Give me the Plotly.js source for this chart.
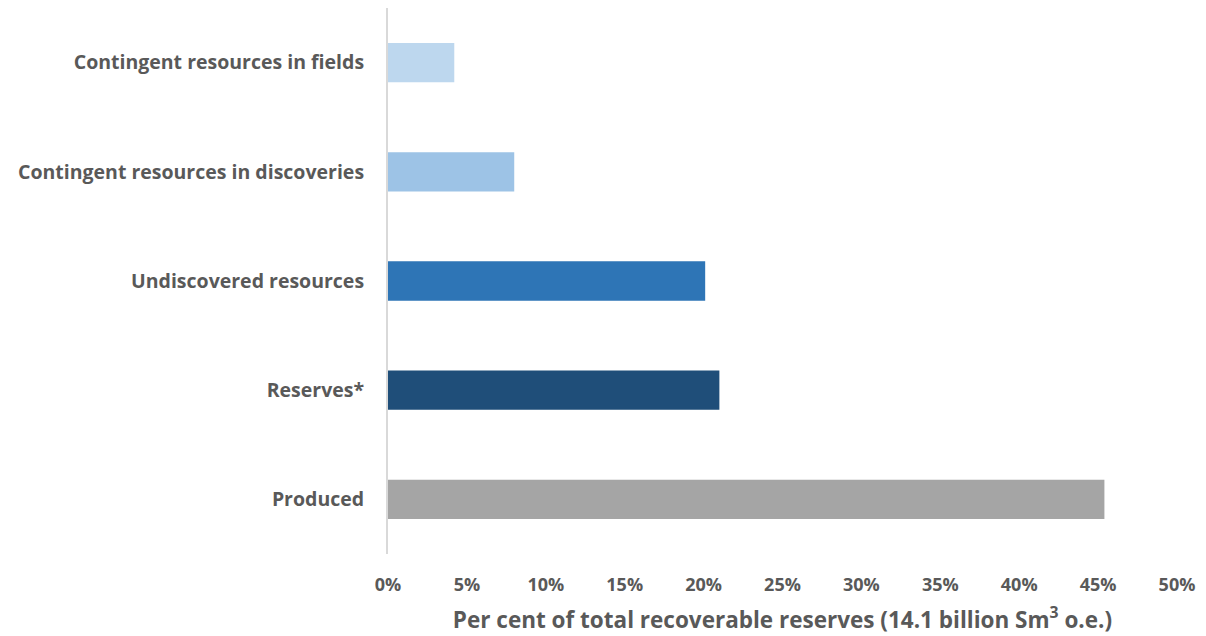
<!DOCTYPE html>
<html>
<head>
<meta charset="utf-8">
<script src="https://cdn.plot.ly/plotly-3.0.1.min.js"></script>
<style>html,body{margin:0;padding:0;background:#fff;}#chart{width:1206px;height:636px;}</style>
</head>
<body>
<div id="chart"></div>
<script>
const categories = ["Produced", "Reserves*", "Undiscovered resources", "Contingent resources in discoveries", "Contingent resources in fields"];
const shares = [0.454, 0.210, 0.201, 0.080, 0.042];
const barColors = ["#A5A5A5", "#1F4E79", "#2E75B6", "#9DC3E6", "#BDD7EE"];
const xTitle = "Per cent of total recoverable reserves (14.1 billion Sm<sup>3</sup> o.e.)";

const font = "'Open Sans', 'Liberation Sans', sans-serif";
const trace = {
  type: "bar",
  orientation: "h",
  x: shares,
  y: categories,
  marker: {color: barColors},
  hoverinfo: "none"
};
const layout = {
  width: 1206, height: 636,
  margin: {l: 388, r: 29, t: 8, b: 82},
  paper_bgcolor: "#fff", plot_bgcolor: "#fff",
  bargap: 0.64,
  showlegend: false,
  font: {family: font, color: "#595959"},
  xaxis: {
    range: [0, 0.5],
    tickvals: [0,0.05,0.1,0.15,0.2,0.25,0.3,0.35,0.4,0.45,0.5],
    tickformat: ".0%",
    showgrid: false, zeroline: false, showline: false,
    ticks: "outside", ticklen: 14, tickcolor: "rgba(0,0,0,0)",
    tickfont: {family: font, size: 18, color: "#595959", weight: "bold"},
    title: {text: xTitle, standoff: 17, font: {family: font, size: 22.5, color: "#595959", weight: "bold"}},
    fixedrange: true
  },
  yaxis: {
    type: "category",
    showgrid: false, zeroline: false,
    showline: true, linecolor: "#D9D9D9", linewidth: 2,
    ticks: "outside", ticklen: 18, tickcolor: "rgba(0,0,0,0)",
    tickfont: {family: font, size: 19.5, color: "#595959", weight: "bold"},
    fixedrange: true
  }
};
Plotly.newPlot("chart", [trace], layout, {staticPlot: true});
</script>
</body>
</html>
